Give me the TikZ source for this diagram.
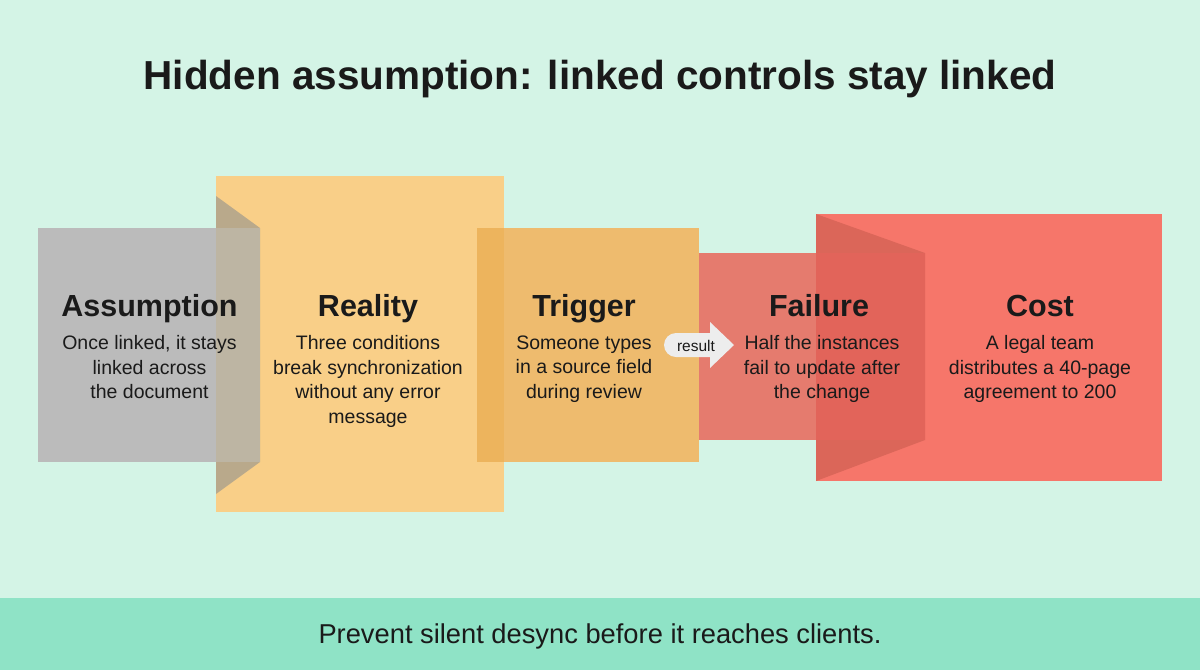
\documentclass[tikz,border=0pt]{standalone}
\usepackage{fontspec}
\setmainfont{Liberation Sans}
\definecolor{bgc}{HTML}{D4F4E6}
\definecolor{footc}{HTML}{8FE3C6}
\definecolor{grayc}{HTML}{BBBBBB}
\definecolor{grayfold}{HTML}{BDB5A3}
\definecolor{realc}{HTML}{F9CF88}
\definecolor{realfold}{HTML}{B9A98B}
\definecolor{trigc}{HTML}{EEBB6E}
\definecolor{trigover}{HTML}{EDB45D}
\definecolor{failc}{HTML}{E57B6E}
\definecolor{failover}{HTML}{E2645A}
\definecolor{costc}{HTML}{F6766A}
\definecolor{costfold}{HTML}{DB6659}
\definecolor{arrowc}{HTML}{EDEDED}
\definecolor{inkc}{HTML}{1A1A1A}
\begin{document}
\begin{tikzpicture}[x=1pt,y=-1pt,
  panel/.style={draw=none,inner sep=0pt,outer sep=0pt},
  boxtitle/.style={inner sep=0pt,anchor=base,text=inkc,font=\fontsize{30.5}{36}\selectfont\bfseries},
  boxbody/.style={inner sep=0pt,anchor=north,align=center,text=inkc,font=\fontsize{19.5}{24.5}\selectfont}]
\useasboundingbox (0,0) rectangle (1200,670);
\fill[bgc] (0,0) rectangle (1200,670);
\fill[footc] (0,598) rectangle (1200,670);
% title
\node[inner sep=0pt,anchor=base,text=inkc,font=\fontsize{40.5}{46}\selectfont\bfseries] (title) at (600,89) {Hidden assumption: linked controls stay linked};
% Reality
\node[panel,fill=realc,minimum width=288pt,minimum height=336pt] (reality) at (360,344) {};
\fill[realfold] (216,196) -- (260,228) -- (260,462) -- (216,494) -- cycle;
% Assumption
\node[panel,fill=grayc,minimum width=222pt,minimum height=234pt] (assume) at (149,345) {};
\fill[grayfold] (216,228) rectangle (260,462);
% Cost
\node[panel,fill=costc,minimum width=346pt,minimum height=267pt] (cost) at (989,347.5) {};
\fill[costfold] (816,214) -- (925,253) -- (925,440) -- (816,481) -- cycle;
% Failure
\node[panel,fill=failc,minimum width=226pt,minimum height=187pt] (failure) at (812,346.5) {};
\fill[failover] (816,253) rectangle (925,440);
% Trigger
\node[panel,fill=trigc,minimum width=222pt,minimum height=234pt] (trigger) at (588,345) {};
\fill[trigover] (477,228) rectangle (504,462);
% result arrow
\fill[arrowc] (676,333) -- (710,333) -- (710,322) -- (734,345) -- (710,368) -- (710,357) -- (676,357) arc[start angle=90,end angle=270,radius=12] -- cycle;
\node[inner sep=0pt,text=inkc,font=\fontsize{15.5}{18}\selectfont] (result) at (696,345.5) {result};
% texts
\node[boxtitle] (t1) at (149.5,316) {Assumption};
\node[boxbody] (b1) at (149.5,335.5) {Once linked, it stays\\linked across\\the document};
\node[boxtitle] (t2) at (368,316) {Reality};
\node[boxbody] (b2) at (368,335.5) {Three conditions\\break synchronization\\without any error\\message};
\node[boxtitle] (t3) at (584,316) {Trigger};
\node[boxbody] (b3) at (584,335.5) {Someone types\\in a source field\\during review};
\node[boxtitle] (t4) at (819,316) {Failure};
\node[boxbody] (b4) at (822,335.5) {Half the instances\\fail to update after\\the change};
\node[boxtitle] (t5) at (1040,316) {Cost};
\node[boxbody] (b5) at (1040,335.5) {A legal team\\distributes a 40-page\\agreement to 200};
% footer
\node[inner sep=0pt,anchor=base,text=inkc,font=\fontsize{27.3}{32}\selectfont] (foot) at (600,643) {Prevent silent desync before it reaches clients.};
\end{tikzpicture}
\end{document}
